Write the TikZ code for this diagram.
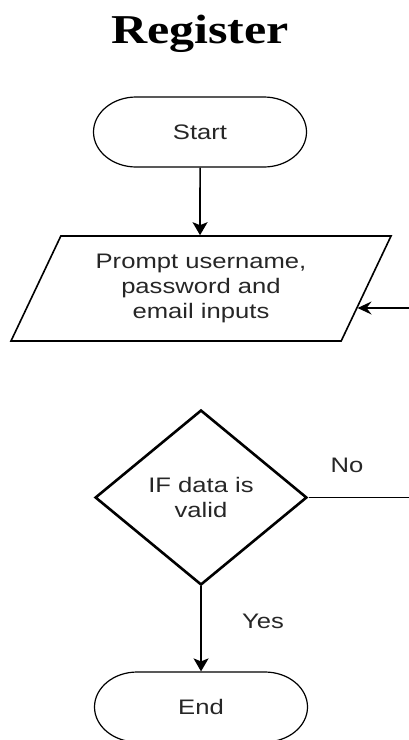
\documentclass[tikz,border=0pt]{standalone}
\usepackage{fontspec}
\setmainfont{Liberation Sans}
\newfontfamily\titlefont{Liberation Serif}
\usetikzlibrary{shapes.geometric,shapes.misc,arrows.meta}
\tikzset{
  base/.style={font=\fontsize{21pt}{25pt}\selectfont, text=black!85},
  terminal/.style={base, rounded rectangle, draw, line width=1.2pt,
    minimum width=174.6pt, minimum height=70pt, inner sep=0pt},
  iobox/.style={base, trapezium, trapezium left angle=59.3, trapezium right angle=120.7,
    trapezium stretches body, draw, line width=1.6pt,
    minimum width=311.5pt, minimum height=105pt, inner sep=0pt, align=center},
  decision/.style={base, diamond, draw, line width=2.6pt,
    minimum width=173.8pt, minimum height=175pt, inner sep=0pt, align=center},
  label/.style={base},
  flow/.style={line width=1.6pt, -{Stealth[length=13pt,width=15pt,inset=3pt]}},
  backflow/.style={line width=1.6pt, -{Stealth[length=14pt,width=13pt,inset=5pt]}},
  plain/.style={line width=1.6pt},
}
\begin{document}
\begin{tikzpicture}[x={(0.8197pt,0)}, y={(0,-1pt)}, xscale=1.22, transform shape]
  \useasboundingbox (0,0) rectangle (408,740);

  % heading
  \node[anchor=base, font=\titlefont\bfseries\fontsize{41pt}{48pt}\selectfont] (title) at (200,43) {Register};

  % flow shapes
  \node[terminal] (start) at (200,132) {Start};
  \node[iobox] (prompt) at (201,288.5) {Prompt username,\\password and\\email inputs};
  \node[decision] (check) at (201,497.5) {IF data is\\valid};
  \node[terminal] (finish) at (201,707) {End};

  % free ends of the loop running back from the right
  \coordinate (noend) at (410,497.5);
  \coordinate (backstart) at (410,308);

  % connectors
  \draw[flow] (start) -- (prompt.north -| start);
  \draw[flow] (check.south) -- (finish.north);
  \draw[plain] (check.east) -- (noend);
  \draw[backflow] (backstart) -- (backstart -| prompt.-9.7);

  % branch labels
  \node[label] (nolab) at (347,465) {No};
  \node[label] (yeslab) at (263,621) {Yes};
\end{tikzpicture}
\end{document}
